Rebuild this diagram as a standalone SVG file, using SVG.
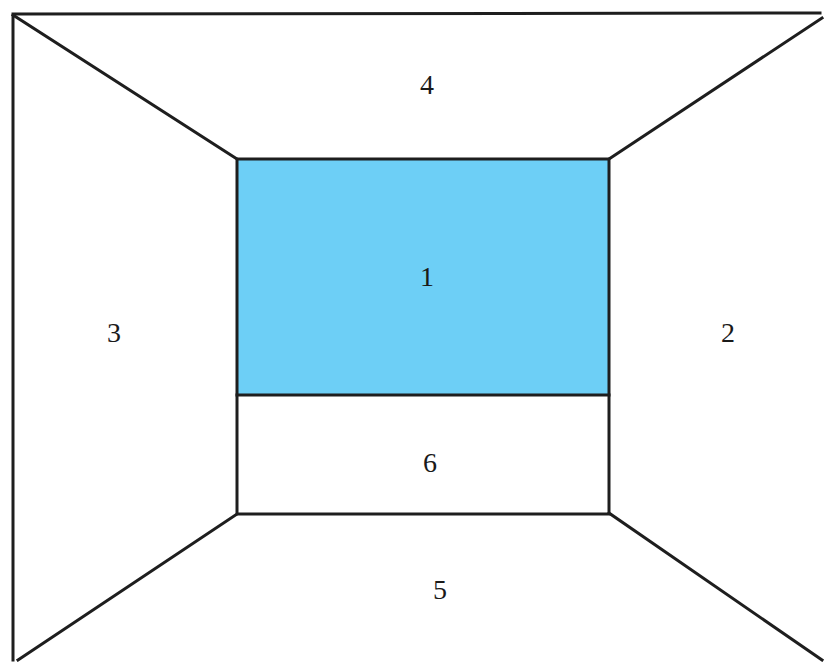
<svg xmlns="http://www.w3.org/2000/svg" width="824" height="662" viewBox="0 0 824 662">
<style>
.ln{stroke:#1e1e1e;stroke-width:3;fill:none;stroke-linecap:square}
.lb{font-family:"Liberation Serif",serif;font-size:28px;fill:#1a1a1a;text-anchor:middle}
</style>
<rect width="824" height="662" fill="#fff"/>
<g id="wall1">
<rect x="237" y="159" width="372" height="236" fill="#6dcff6"/>
<text class="lb" x="427" y="286">1</text>
</g>
<g id="wall6">
<text class="lb" x="430" y="472">6</text>
</g>
<g id="wall2"><text class="lb" x="728" y="342">2</text></g>
<g id="wall3"><text class="lb" x="114" y="342">3</text></g>
<g id="wall4"><text class="lb" x="427" y="94">4</text></g>
<g id="wall5"><text class="lb" x="440" y="599">5</text></g>
<g id="connectors">
<path class="ln" d="M13 660 L13 14 L820 13"/>
<path class="ln" d="M13 15 L237 159 M822 18 L609 159 M237 514 L18 660 M609 513 L822 660"/>
<rect class="ln" x="237" y="159" width="372" height="355"/>
<line class="ln" x1="237" y1="395" x2="609" y2="395"/>
</g>
</svg>
